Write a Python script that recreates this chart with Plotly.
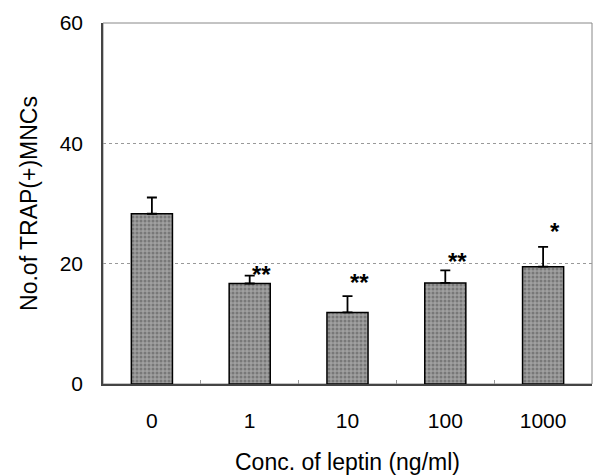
import plotly.graph_objects as go

categories = ["0", "1", "10", "100", "1000"]
means = [28.3, 16.7, 11.9, 16.8, 19.5]
errors = [2.7, 1.3, 2.7, 2.1, 3.3]
stars = ["", "**", "**", "**", "*"]
star_y = [None, 19.0, 17.7, 21.2, 26.2]

fig = go.Figure()
fig.add_trace(go.Bar(
    x=categories, y=means, width=0.42,
    marker=dict(color="#8a8a8a", line=dict(color="black", width=1.5),
                pattern=dict(shape=".", fgcolor="#505050", bgcolor="#a0a0a0", size=4, solidity=0.45)),
    error_y=dict(type="data", array=errors, arrayminus=[0]*5, symmetric=False,
                 color="black", thickness=1.8, width=5),
    showlegend=False,
))

for i, (s, yv) in enumerate(zip(stars, star_y)):
    if s:
        fig.add_annotation(x=i, y=yv, text="<b>" + s + "</b>", showarrow=False,
                           xshift=12, yshift=-5,
                           font=dict(size=24, color="black", family="Liberation Sans, Arial"))

fig.update_layout(
    width=596, height=475,
    margin=dict(l=103, r=4, t=23, b=91),
    plot_bgcolor="white", paper_bgcolor="white",
    font=dict(family="Liberation Sans, Arial", color="black"),
    shapes=[dict(type="rect", xref="paper", yref="paper", x0=0, x1=1, y0=0, y1=1,
                 line=dict(color="#888888", width=1), layer="below")],
)
fig.update_yaxes(range=[0, 60], tickvals=[0, 20, 40, 60], showgrid=True,
                 gridcolor="#999999", griddash="dot", gridwidth=1,
                 showline=True, linecolor="#444444", linewidth=1.5,
                 tickfont=dict(size=21), ticks="", ticklabelstandoff=14,
                 zeroline=False, automargin=False,
                 title=dict(text="No.of TRAP(+)MNCs", font=dict(size=23), standoff=16))
fig.update_xaxes(type="category", range=[-0.5, 4.5], showline=True, linecolor="#444444", linewidth=1.5,
                 ticks="inside", tickson="boundaries", ticklen=4, tickcolor="#999999",
                 tickfont=dict(size=21), showgrid=False, ticklabelstandoff=17, automargin=False,
                 title=dict(text="Conc. of leptin (ng/ml)", font=dict(size=23), standoff=23))

fig.write_html("out.html")
